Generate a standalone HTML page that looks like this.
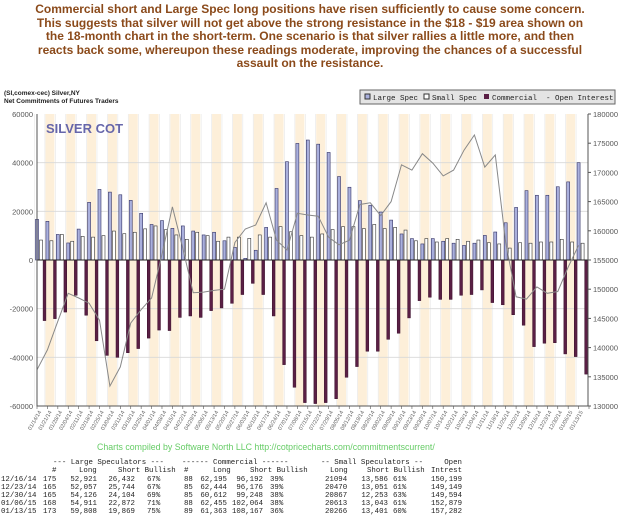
<!DOCTYPE html>
<html><head><meta charset="utf-8"><style>
body{margin:0;background:#fff;width:620px;height:526px;overflow:hidden;position:relative;font-family:"Liberation Sans",sans-serif}
#title{position:absolute;left:0;top:3px;width:620px;text-align:center;color:#8b4a1a;font-weight:bold;font-size:12px;line-height:13.5px}
svg{position:absolute;left:0;top:0}
.mono{font-family:"Liberation Mono",monospace;font-size:7.4px;fill:#222}
</style></head><body>
<div id="title">Commercial short and Large Spec long positions have risen sufficiently to cause some concern.<br>This suggests that silver will not get above the strong resistance in the $18 - $19 area shown on<br>the 18-month chart in the short-term. One scenario is that silver rallies a little more, and then<br>reacts back some, whereupon these readings moderate, improving the chances of a successful<br>assault on the resistance.</div>
<svg id="chart" width="620" height="526">
<text x="4" y="95" font-size="6.5" font-weight="bold" fill="#222">(SI,comex-cec) Silver,NY</text>
<text x="4" y="103" font-size="6.5" font-weight="bold" fill="#222">Net Commitments of Futures Traders</text>
<g>
<rect x="360" y="90" width="255" height="14" fill="#e4e4e4" stroke="#666"/>
<rect x="365" y="94" width="5" height="5" fill="#aab0dd" stroke="#333"/>
<text x="373" y="100" font-family="Liberation Mono" font-size="7.5" fill="#222">Large Spec</text>
<rect x="424" y="94" width="5" height="5" fill="#fff" stroke="#333"/>
<text x="432" y="100" font-family="Liberation Mono" font-size="7.5" fill="#222">Small Spec</text>
<rect x="484" y="94" width="5" height="5" fill="#5a1f45"/>
<text x="492" y="100" font-family="Liberation Mono" font-size="7.5" fill="#222">Commercial</text>
<text x="546" y="100" font-family="Liberation Mono" font-size="7.5" fill="#222">- Open Interest</text>
</g>
<g id="plot"></g>
<text x="46" y="133" font-size="13" font-weight="bold" fill="#6666aa">SILVER COT</text>
<text x="97" y="450" font-size="8.8" fill="#66cc66">Charts compiled by Software North LLC  http://cotpricecharts.com/commitmentscurrent/</text>
<g id="table"></g>
</svg>
<script>
const dates=["01/14/14","01/21/14","01/28/14","02/04/14","02/11/14","02/18/14","02/25/14","03/04/14","03/11/14","03/18/14","03/25/14","04/01/14","04/08/14","04/15/14","04/22/14","04/29/14","05/06/14","05/13/14","05/20/14","05/27/14","06/03/14","06/10/14","06/17/14","06/24/14","07/01/14","07/08/14","07/15/14","07/22/14","07/29/14","08/05/14","08/12/14","08/19/14","08/26/14","09/02/14","09/09/14","09/16/14","09/23/14","09/30/14","10/07/14","10/14/14","10/21/14","10/28/14","11/04/14","11/11/14","11/18/14","11/25/14","12/02/14","12/09/14","12/16/14","12/23/14","12/30/14","01/06/15","01/13/15"];
const largeSpec=[16.7,15.9,10.5,7.0,12.7,23.7,29.0,27.9,26.8,24.5,19.2,14.6,16.2,13.0,14.0,11.9,10.3,11.4,7.9,5.2,0.7,4.0,13.4,29.4,40.4,47.9,49.3,47.6,44.2,34.3,29.9,24.4,22.5,19.7,16.4,10.7,8.8,6.6,8.8,7.7,6.9,6.0,6.9,10.1,11.5,15.3,21.6,28.5,26.6,26.6,30.1,32.1,40.0];
const smallSpec=[8.2,7.9,10.5,7.7,9.7,9.4,10.0,11.9,10.8,11.4,12.8,14.0,12.5,10.3,8.5,11.4,10.0,7.7,9.4,9.4,8.9,10.3,9.4,13.7,11.6,10.0,9.4,10.7,12.5,13.7,13.7,12.9,14.6,12.9,13.4,12.3,7.9,8.8,7.4,8.8,8.5,7.7,8.2,7.1,6.6,4.9,7.1,6.9,7.4,7.4,8.5,7.4,6.9];
const commercial=[-24.9,-24.1,-21.4,-14.5,-22.7,-33.2,-39.2,-40.0,-38.1,-36.4,-32.1,-28.8,-29.0,-23.6,-23.0,-23.6,-20.8,-19.7,-17.8,-14.2,-9.6,-14.2,-23.0,-43.0,-52.3,-58.6,-59.0,-58.6,-57.0,-48.2,-43.8,-37.5,-37.5,-32.6,-30.1,-23.8,-16.7,-15.3,-16.2,-16.2,-14.5,-14.2,-12.3,-17.5,-18.4,-22.5,-26.8,-35.6,-34.2,-34.0,-38.6,-39.7,-46.9];
const openInterest=[136.2,139.6,144.5,149.3,148.5,147.6,144.7,133.4,136.7,144.2,146.5,148.5,156.0,164.1,157.0,149.4,149.5,149.8,150.0,158.0,160.3,161.0,164.8,158.4,156.7,163.0,162.7,162.5,158.9,157.6,158.4,164.5,164.8,162.6,165.0,171.3,170.4,173.2,171.6,169.4,170.4,173.8,176.4,170.9,173.0,158.0,148.7,148.3,150.4,149.3,149.6,153.8,157.5];
const leftTicks=[60000,40000,20000,0,-20000,-40000,-60000];
const rightTicks=[180000,175000,170000,165000,160000,155000,150000,145000,140000,135000,130000];
const tableRows=[
["12/16/14","175","52,921","26,432","67%","88","62,195","96,192","39%","21094","13,586","61%","150,199"],
["12/23/14","165","52,057","25,744","67%","85","62,444","96,176","39%","20470","13,051","61%","149,149"],
["12/30/14","165","54,126","24,104","69%","85","60,612","99,248","38%","20867","12,253","63%","149,594"],
["01/06/15","168","54,911","22,872","71%","88","62,455","102,064","38%","20613","13,043","61%","152,879"],
["01/13/15","173","59,808","19,869","75%","89","61,363","108,167","36%","20266","13,401","60%","157,282"]];

const NS="http://www.w3.org/2000/svg";
const L=37,R=588,T=114,B=406,N=dates.length,step=(R-L+1)/N;
const yL=v=>260-v*(B-T)/120;
const yR=v=>B-(v-130)*(B-T)/50;
const xg=i=>35.5+step*i;
function mk(tag,attrs,parent){const e=document.createElementNS(NS,tag);for(const k in attrs)e.setAttribute(k,attrs[k]);parent.appendChild(e);return e;}
const plot=document.getElementById('plot');
for(let i=1;i<N;i+=2){const r=mk('rect',{x:xg(i)-0.5,y:T,width:9,height:B-T,fill:'#fdefd9'},plot);

}
for(let i=0;i<N;i++){const l=mk('line',{x1:xg(i)-1,x2:xg(i)-1,y1:T,y2:B,stroke:'#e6e6e6','stroke-width':0.6},plot);

}
leftTicks.forEach(v=>{const y=yL(v/1000);
if(v!==0&&v!==60000&&v!==-60000){const g=mk('line',{x1:L,x2:R,y1:y,y2:y,stroke:'#d8d8d8','stroke-width':0.8},plot);

}
const t=mk('text',{x:33,y:y+3,'font-size':7.5,fill:'#555','text-anchor':'end'},plot);t.textContent=v;

});
rightTicks.forEach(v=>{const y=yR(v/1000);
const t=mk('text',{x:593,y:y+3,'font-size':7.5,fill:'#555'},plot);t.textContent=v;


mk('line',{x1:R,x2:R+3,y1:y,y2:y,stroke:'#555'},plot);});
for(let i=0;i<N;i++){const x=xg(i);
let v=largeSpec[i],b=mk('rect',{x:x,y:yL(v),width:3,height:Math.max(0,yL(0)-yL(v)),fill:'#aab0dd',stroke:'#333366','stroke-width':0.6},plot);


v=smallSpec[i];b=mk('rect',{x:x+4,y:yL(v),width:3,height:yL(0)-yL(v),fill:'#fff',stroke:'#333','stroke-width':0.6},plot);


v=commercial[i];b=mk('rect',{x:x+7.6,y:yL(0),width:2.8,height:yL(v)-yL(0),fill:'#5a1f45',stroke:'#3a0f2a','stroke-width':0.5},plot);


const t=mk('text',{x:x+6,y:412,'font-size':5.5,fill:'#666','text-anchor':'end',transform:`rotate(-60 ${x+6} 412)`},plot);t.textContent=dates[i];

}
const zl=mk('line',{x1:L,x2:R,y1:260,y2:260,stroke:'#222','stroke-width':1},plot);


const pts=openInterest.map((v,i)=>`${(xg(i)+1.5).toFixed(1)},${yR(v).toFixed(1)}`).join(' ');
const oi=mk('polyline',{points:pts,fill:'none',stroke:'#888','stroke-width':1},plot);


const ax=mk('path',{d:`M${L} ${T}V${B}H${R}V${T}`,fill:'none',stroke:'#555','stroke-width':1},plot);


for(let i=0;i<=N;i++)mk('line',{x1:L+step*i,x2:L+step*i,y1:B,y2:B+3,stroke:'#555','stroke-width':0.6},plot);
const tb=document.getElementById('table');
function tx(s,x,y,anchor){const t=mk('text',{x:x,y:y,class:'mono','text-anchor':anchor||'start'},tb);t.textContent=s;return t;}
[["--- Large Speculators ---",53],["------ Commercial ------",182],["-- Small Speculators --",321],["Open",462,'end']].forEach(h=>{const t=tx(h[0],h[1],464,h[2]);

});
[["#",52],["Long",79],["Short Bullish",118],["#",184],["Long",213],["Short Bullish",250],["Long",330],["Short Bullish",367],["Intrest",462,'end']].forEach(h=>{const t=tx(h[0],h[1],472,h[2]);

});
const cols=[[1,'start'],[43,'start'],[97,'end'],[135,'end'],[147,'start'],[184,'start'],[227,'end'],[263,'end'],[270,'start'],[325,'start'],[388,'end'],[393,'start'],[462,'end']];
tableRows.forEach((r,ri)=>{const y=481+ri*8;r.forEach((c,ci)=>{const t=tx(c,cols[ci][0],y,cols[ci][1]);

});});
</script>
</body></html>
